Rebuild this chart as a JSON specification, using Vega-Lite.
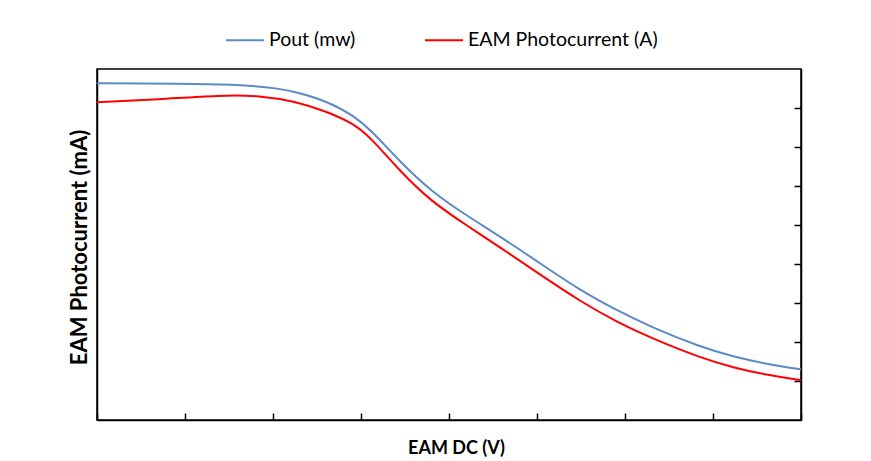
{
  "$schema": "https://vega.github.io/schema/vega-lite/v6.json",
  "width": 704,
  "height": 351,
  "autosize": {"type": "none"},
  "padding": {"left": 97, "top": 69, "right": 70, "bottom": 41},
  "background": "white",
  "config": {
    "font": "Lato",
    "view": {"stroke": "black", "strokeWidth": 1.5},
    "axis": {"domainColor": "black", "domainWidth": 1.5, "tickColor": "black", "tickWidth": 1.5, "grid": false, "labels": false}
  },
  "data": {"values": [
    {"v": 0, "i": 8.633, "s": "Pout (mw)"},
    {"v": 0.5, "i": 8.628, "s": "Pout (mw)"},
    {"v": 1.1, "i": 8.615, "s": "Pout (mw)"},
    {"v": 1.65, "i": 8.59, "s": "Pout (mw)"},
    {"v": 2.05, "i": 8.51, "s": "Pout (mw)"},
    {"v": 2.3, "i": 8.39, "s": "Pout (mw)"},
    {"v": 2.5, "i": 8.25, "s": "Pout (mw)"},
    {"v": 2.7, "i": 8.07, "s": "Pout (mw)"},
    {"v": 2.9, "i": 7.82, "s": "Pout (mw)"},
    {"v": 3.1, "i": 7.47, "s": "Pout (mw)"},
    {"v": 3.45, "i": 6.6, "s": "Pout (mw)"},
    {"v": 3.8, "i": 5.86, "s": "Pout (mw)"},
    {"v": 4.2, "i": 5.24, "s": "Pout (mw)"},
    {"v": 4.6, "i": 4.68, "s": "Pout (mw)"},
    {"v": 5.0, "i": 4.07, "s": "Pout (mw)"},
    {"v": 5.5, "i": 3.31, "s": "Pout (mw)"},
    {"v": 5.9, "i": 2.82, "s": "Pout (mw)"},
    {"v": 6.3, "i": 2.38, "s": "Pout (mw)"},
    {"v": 6.85, "i": 1.88, "s": "Pout (mw)"},
    {"v": 7.25, "i": 1.61, "s": "Pout (mw)"},
    {"v": 7.6, "i": 1.44, "s": "Pout (mw)"},
    {"v": 8.0, "i": 1.3, "s": "Pout (mw)"},
    {"v": 0, "i": 8.146, "s": "EAM Photocurrent (A)"},
    {"v": 0.7, "i": 8.22, "s": "EAM Photocurrent (A)"},
    {"v": 1.4, "i": 8.33, "s": "EAM Photocurrent (A)"},
    {"v": 1.85, "i": 8.32, "s": "EAM Photocurrent (A)"},
    {"v": 2.25, "i": 8.17, "s": "EAM Photocurrent (A)"},
    {"v": 2.6, "i": 7.92, "s": "EAM Photocurrent (A)"},
    {"v": 2.9, "i": 7.62, "s": "EAM Photocurrent (A)"},
    {"v": 3.1, "i": 7.27, "s": "EAM Photocurrent (A)"},
    {"v": 3.45, "i": 6.36, "s": "EAM Photocurrent (A)"},
    {"v": 3.8, "i": 5.6, "s": "EAM Photocurrent (A)"},
    {"v": 4.2, "i": 4.99, "s": "EAM Photocurrent (A)"},
    {"v": 4.6, "i": 4.4, "s": "EAM Photocurrent (A)"},
    {"v": 5.0, "i": 3.78, "s": "EAM Photocurrent (A)"},
    {"v": 5.5, "i": 3.03, "s": "EAM Photocurrent (A)"},
    {"v": 5.9, "i": 2.52, "s": "EAM Photocurrent (A)"},
    {"v": 6.3, "i": 2.1, "s": "EAM Photocurrent (A)"},
    {"v": 6.85, "i": 1.6, "s": "EAM Photocurrent (A)"},
    {"v": 7.25, "i": 1.33, "s": "EAM Photocurrent (A)"},
    {"v": 7.6, "i": 1.16, "s": "EAM Photocurrent (A)"},
    {"v": 8.0, "i": 1.02, "s": "EAM Photocurrent (A)"}
  ]},
  "layer": [
    {
      "mark": {"type": "line", "interpolate": "basis", "strokeWidth": 2},
      "encoding": {
        "x": {"field": "v", "type": "quantitative", "scale": {"domain": [0, 8], "nice": false, "zero": false},
              "axis": {"values": [0, 1, 2, 3, 4, 5, 6, 7, 8], "tickSize": -7, "title": "EAM DC (V)", "titleFontSize": 18, "titleFontWeight": "bold", "titleColor": "black", "titlePadding": 19, "titleX": 359}},
        "y": {"field": "i", "type": "quantitative", "scale": {"domain": [0, 9], "nice": false, "zero": false},
              "axis": {"orient": "left", "ticks": false, "title": "EAM Photocurrent (mA)", "titleFontSize": 22, "titleFontWeight": "bold", "titleColor": "black", "titlePadding": 6, "titleY": 178}},
        "color": {"field": "s", "type": "nominal", "sort": ["Pout (mw)", "EAM Photocurrent (A)"],
                  "scale": {"domain": ["Pout (mw)", "EAM Photocurrent (A)"], "range": ["#5B8BC6", "#FF0000"]},
                  "legend": {"title": null, "orient": "none", "direction": "horizontal", "legendX": 128, "legendY": -49, "symbolType": "stroke", "symbolSize": 1444, "symbolStrokeWidth": 2, "labelFontSize": 19.5, "labelColor": "black", "labelOffset": 4, "columnPadding": 65, "labelLimit": 400}}
      }
    },
    {
      "mark": {"type": "line", "strokeOpacity": 0},
      "encoding": {
        "x": {"field": "v", "type": "quantitative", "scale": {"domain": [0, 8], "nice": false, "zero": false}},
        "y": {"field": "i", "type": "quantitative", "scale": {"domain": [0, 9], "nice": false, "zero": false},
              "axis": {"orient": "right", "values": [1, 2, 3, 4, 5, 6, 7, 8], "tickSize": -7, "title": null}},
        "detail": {"field": "s"}
      }
    }
  ],
  "resolve": {"axis": {"y": "independent"}}
}
